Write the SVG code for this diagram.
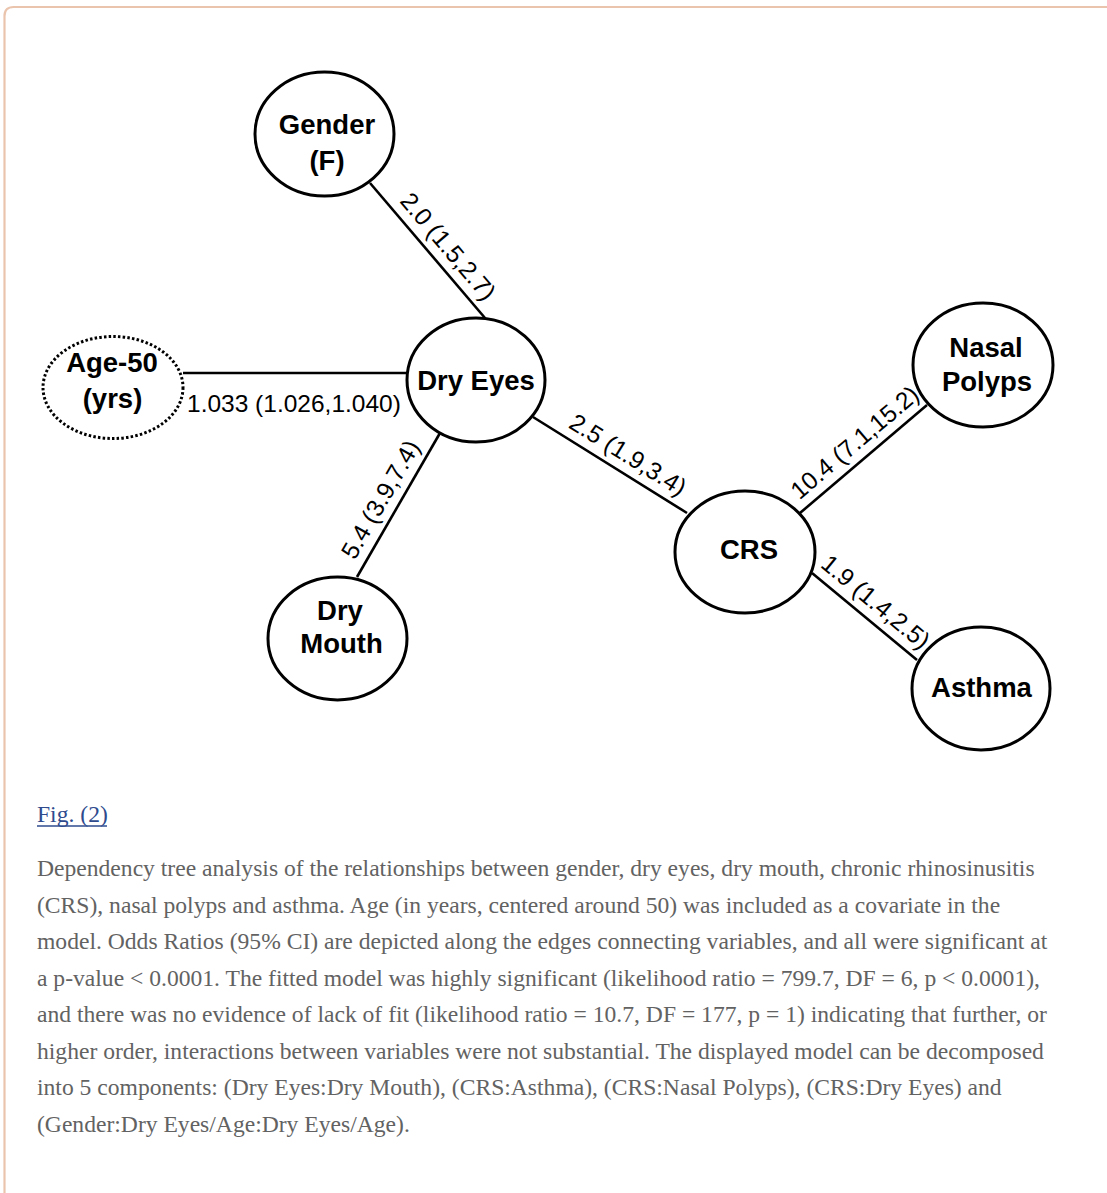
<svg xmlns="http://www.w3.org/2000/svg" width="1107" height="1193" viewBox="0 0 1107 1193">
<style>
.node{fill:#fff;stroke:#000;stroke-width:3}
.dotted{stroke-dasharray:2.5 2.2}
.lbl{font-family:"Liberation Sans",Arial,sans-serif;font-weight:bold;font-size:27.5px;text-anchor:middle;fill:#000}
.edge{stroke:#000;stroke-width:2.6;fill:none}
.elbl{font-family:"Liberation Sans",Arial,sans-serif;font-size:24.5px;fill:#000}
.cap{font-family:"Liberation Serif","Times New Roman",serif;font-size:23.6px;fill:#626262}
.fig{font-family:"Liberation Serif","Times New Roman",serif;font-size:23.6px;fill:#2f4b8e}
</style>
<rect width="1107" height="1193" fill="#fff"/>
<path d="M4.5,1193 V16 Q4.5,7 13.5,7 H1107" fill="none" stroke="#ebc4ae" stroke-width="2.2"/>
<g id="connectors">
<line class="edge" x1="370" y1="183" x2="485" y2="318"/>
<line class="edge" x1="183" y1="373" x2="408" y2="373"/>
<line class="edge" x1="440" y1="433" x2="357" y2="577"/>
<line class="edge" x1="533" y1="417" x2="687" y2="513"/>
<line class="edge" x1="800" y1="513" x2="927" y2="405"/>
<line class="edge" x1="812" y1="573" x2="917" y2="660"/>
<text class="elbl" text-anchor="middle" transform="translate(441.7,251.8) rotate(49.6)">2.0 (1.5,2.7)</text>
<text class="elbl" x="187" y="412">1.033 (1.026,1.040)</text>
<text class="elbl" text-anchor="middle" transform="translate(387.7,503.6) rotate(-60)">5.4 (3.9,7.4)</text>
<text class="elbl" text-anchor="middle" transform="translate(623.6,461.8) rotate(31.9)">2.5 (1.9,3.4)</text>
<text class="elbl" text-anchor="middle" transform="translate(860.1,448.8) rotate(-40.4)">10.4 (7.1,15.2)</text>
<text class="elbl" text-anchor="middle" transform="translate(870.4,608.4) rotate(39.6)">1.9 (1.4,2.5)</text>
</g>
<g id="gender">
<ellipse class="node" cx="324.5" cy="134" rx="69.5" ry="62"/>
<text class="lbl" x="327" y="134">Gender</text>
<text class="lbl" x="327" y="170">(F)</text>
</g>
<g id="age">
<ellipse class="node dotted" cx="113" cy="387.5" rx="70" ry="51"/>
<text class="lbl" x="112" y="372">Age-50</text>
<text class="lbl" x="112.5" y="408">(yrs)</text>
</g>
<g id="dryeyes">
<ellipse class="node" cx="476" cy="380" rx="69" ry="62"/>
<text class="lbl" x="476" y="390">Dry Eyes</text>
</g>
<g id="drymouth">
<ellipse class="node" cx="337.5" cy="638.5" rx="69.5" ry="61.5"/>
<text class="lbl" x="340" y="620">Dry</text>
<text class="lbl" x="341.5" y="653">Mouth</text>
</g>
<g id="crs">
<ellipse class="node" cx="745" cy="552" rx="70" ry="61"/>
<text class="lbl" x="749" y="559">CRS</text>
</g>
<g id="nasal">
<ellipse class="node" cx="983" cy="365" rx="70" ry="62"/>
<text class="lbl" x="986" y="357">Nasal</text>
<text class="lbl" x="987" y="391">Polyps</text>
</g>
<g id="asthma">
<ellipse class="node" cx="981" cy="688.5" rx="69" ry="61.5"/>
<text class="lbl" x="981.5" y="697">Asthma</text>
</g>
<g id="caption">
<text class="fig" x="37" y="822">Fig. (2)</text>
<line x1="37" y1="826" x2="107" y2="826" stroke="#2f4b8e" stroke-width="1.4"/>
<text class="cap" x="37" y="876">Dependency tree analysis of the relationships between gender, dry eyes, dry mouth, chronic rhinosinusitis</text>
<text class="cap" x="37" y="912.6">(CRS), nasal polyps and asthma. Age (in years, centered around 50) was included as a covariate in the</text>
<text class="cap" x="37" y="949.1">model. Odds Ratios (95% CI) are depicted along the edges connecting variables, and all were significant at</text>
<text class="cap" x="37" y="985.7">a p-value &lt; 0.0001. The fitted model was highly significant (likelihood ratio = 799.7, DF = 6, p &lt; 0.0001),</text>
<text class="cap" x="37" y="1022.3">and there was no evidence of lack of fit (likelihood ratio = 10.7, DF = 177, p = 1) indicating that further, or</text>
<text class="cap" x="37" y="1058.9">higher order, interactions between variables were not substantial. The displayed model can be decomposed</text>
<text class="cap" x="37" y="1095.4">into 5 components: (Dry Eyes:Dry Mouth), (CRS:Asthma), (CRS:Nasal Polyps), (CRS:Dry Eyes) and</text>
<text class="cap" x="37" y="1132">(Gender:Dry Eyes/Age:Dry Eyes/Age).</text>
</g>
</svg>
